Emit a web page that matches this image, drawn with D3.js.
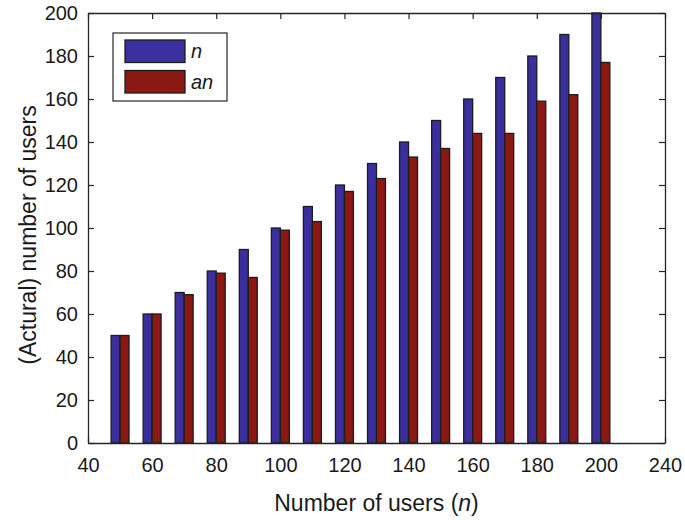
<!DOCTYPE html>
<html>
<head>
<meta charset="utf-8">
<script src="https://cdn.jsdelivr.net/npm/d3@7"></script>
<style>
  html, body { margin: 0; padding: 0; background: #fff; }
  svg { display: block; font-family: "Liberation Sans", Arial, sans-serif; }
</style>
</head>
<body>
<svg id="chart" width="685" height="520"></svg>
<script>
// ---- data ----
const users = [50, 60, 70, 80, 90, 100, 110, 120, 130, 140, 150, 160, 170, 180, 190, 200];
const seriesN = [50, 60, 70, 80, 90, 100, 110, 120, 130, 140, 150, 160, 170, 180, 190, 200];
const seriesAN = [50, 60, 69, 79, 77, 99, 103, 117, 123, 133, 137, 144, 144, 159, 162, 177];
const xTickValues = [40, 60, 80, 100, 120, 140, 160, 180, 200, 220];
const xTickLabels = ["40", "60", "80", "100", "120", "140", "160", "180", "200", "240"];
const yTickValues = [0, 20, 40, 60, 80, 100, 120, 140, 160, 180, 200];
const legendLabels = ["n", "an"];
const colors = ["#3b2f9f", "#8a1913"];

// ---- layout ----
const svg = d3.select("#chart");
const L = 88, R = 665, T = 13, B = 443;
const x = d3.scaleLinear().domain([40, 220]).range([L, R]);
const y = d3.scaleLinear().domain([0, 200]).range([B, T]);
const barW = 2.8; // in data units

const g = svg.append("g");

// bars
const series = [seriesN, seriesAN];
series.forEach((vals, si) => {
  g.selectAll(null)
    .data(users.map((u, i) => ({ u, v: vals[i] })))
    .enter().append("rect")
    .attr("x", d => si === 0 ? x(d.u - barW) : x(d.u))
    .attr("width", d => x(d.u + barW) - x(d.u))
    .attr("y", d => y(d.v))
    .attr("height", d => y(0) - y(d.v))
    .attr("fill", colors[si])
    .attr("stroke", "#1c1c1c")
    .attr("stroke-width", 1.3);
});

// axes
const tickFmt = (d) => xTickLabels[xTickValues.indexOf(d)];
const axStyle = sel => {
  sel.selectAll("path.domain").attr("stroke", "#262626").attr("stroke-width", 1.3);
  sel.selectAll(".tick line").attr("stroke", "#262626").attr("stroke-width", 1.2);
  sel.selectAll("text").attr("fill", "#1a1a1a").style("font-size", "20px")
     .style("font-family", "'Liberation Sans', Arial, sans-serif");
};

svg.append("g").attr("transform", `translate(0,${B})`)
  .call(d3.axisBottom(x).tickValues(xTickValues).tickFormat(tickFmt).tickSize(-6).tickSizeOuter(0).tickPadding(15))
  .call(axStyle);
svg.append("g").attr("transform", `translate(0,${T})`)
  .call(d3.axisTop(x).tickValues(xTickValues).tickFormat("").tickSize(-6).tickSizeOuter(0))
  .call(axStyle);
svg.append("g").attr("transform", `translate(${L},0)`)
  .call(d3.axisLeft(y).tickValues(yTickValues).tickSize(-6).tickSizeOuter(0).tickPadding(10))
  .call(axStyle);
svg.append("g").attr("transform", `translate(${R},0)`)
  .call(d3.axisRight(y).tickValues(yTickValues).tickFormat("").tickSize(-6).tickSizeOuter(0))
  .call(axStyle);

// axis titles
const xt = svg.append("text")
  .attr("x", (L + R) / 2).attr("y", 511)
  .attr("text-anchor", "middle")
  .attr("fill", "#1a1a1a")
  .style("font-size", "23px");
xt.append("tspan").text("Number of users (");
xt.append("tspan").attr("font-style", "italic").text("n");
xt.append("tspan").text(")");

svg.append("text")
  .attr("transform", `translate(36,${(T + B) / 2 + 7}) rotate(-90)`)
  .attr("text-anchor", "middle")
  .attr("fill", "#1a1a1a")
  .style("font-size", "23px")
  .text("(Actural) number of users");

// legend
const lg = svg.append("g");
lg.append("rect").attr("x", 113).attr("y", 33).attr("width", 114).attr("height", 68)
  .attr("fill", "#fff").attr("stroke", "#262626").attr("stroke-width", 1.2);
legendLabels.forEach((lab, i) => {
  lg.append("rect").attr("x", 125).attr("y", 40 + i * 30.5).attr("width", 60).attr("height", 22.5)
    .attr("fill", colors[i]).attr("stroke", "#1c1c1c").attr("stroke-width", 1.3);
  lg.append("text").attr("x", 191).attr("y", 58 + i * 30.5)
    .attr("fill", "#1a1a1a").attr("font-style", "italic")
    .style("font-size", "20px").text(lab);
});
</script>
</body>
</html>
